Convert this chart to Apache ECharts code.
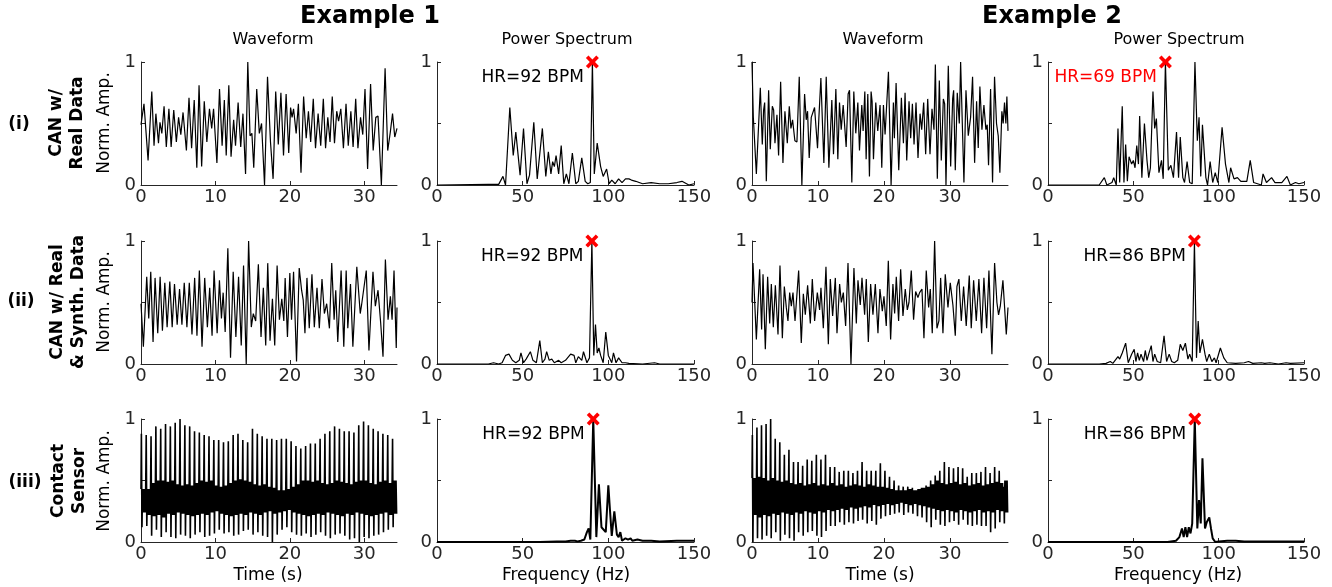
<!DOCTYPE html>
<html>
<head>
<meta charset="utf-8">
<script src="https://cdn.jsdelivr.net/npm/echarts@6/dist/echarts.min.js"></script>
<style>
  html, body { margin: 0; padding: 0; background: #fff; }
  #main { width: 1332px; height: 587px; }
</style>
</head>
<body>
<div id="main"></div>
<script>
// ---- data ----
// waveforms: [time (s), normalised amplitude]
var waveR1E1 = [[0,0.49],[0.4,0.66],[0.95,0.2],[1.45,0.76],[1.75,0.32],[2.0,0.58],[2.35,0.34],[2.55,0.51],[2.8,0.42],[3.1,0.64],[3.4,0.31],[3.75,0.62],[4.05,0.31],[4.4,0.61],[4.75,0.35],[5.05,0.55],[5.35,0.41],[5.65,0.59],[6.1,0.28],[6.45,0.71],[6.8,0.3],[7.15,0.69],[7.5,0.14],[7.8,0.81],[8.15,0.15],[8.5,0.68],[8.85,0.35],[9.2,0.62],[9.5,0.46],[9.75,0.62],[10.2,0.18],[10.55,0.78],[10.9,0.32],[11.2,0.69],[11.45,0.24],[11.8,0.81],[12.1,0.23],[12.45,0.53],[12.7,0.32],[13.05,0.67],[13.4,0.31],[13.7,0.58],[14.05,0.09],[14.35,1.0],[14.65,0.4],[14.9,0.42],[15.15,0.14],[15.55,0.78],[15.9,0.42],[16.2,0.5],[16.6,0],[17.0,0.88],[17.4,0.35],[17.75,0.05],[18.1,0.76],[18.45,0.33],[18.8,0.75],[19.15,0.24],[19.5,0.74],[19.85,0.26],[20.1,0.63],[20.3,0.55],[20.5,0.62],[20.85,0.42],[21.15,0.66],[21.5,0.1],[21.85,0.72],[22.2,0.38],[22.5,0.6],[22.8,0.35],[23.15,0.7],[23.45,0.3],[23.8,0.58],[24.15,0.32],[24.5,0.7],[24.8,0.3],[25.1,0.55],[25.4,0.35],[25.7,0.72],[26.0,0.34],[26.3,0.6],[26.55,0.52],[26.85,0.62],[27.2,0.3],[27.55,0.66],[27.85,0.32],[28.2,0.6],[28.5,0.31],[28.85,0.7],[29.15,0.3],[29.5,0.55],[29.8,0.41],[30.1,0.78],[30.45,0.13],[30.85,0.82],[31.2,0.28],[31.55,0.55],[31.85,0.56],[32.3,0],[32.8,0.95],[33.15,0.28],[33.5,0.43],[33.8,0.58],[34.1,0.39],[34.4,0.46]];

var waveR1E2 = [[0,1.0],[0.2,0.55],[0.66,0.09],[1.26,0.79],[1.56,0.33],[1.76,0.61],[1.92,0.67],[2.17,0.03],[2.52,0.77],[2.77,0.29],[3.08,0.64],[3.28,0.61],[3.48,0.34],[3.78,0.57],[4.03,0.24],[4.34,0.84],[4.69,0.18],[4.99,0.6],[5.35,0.34],[5.65,0.64],[5.9,0.46],[6.15,0.53],[6.5,0.36],[6.81,0.35],[7.16,0.88],[7.56,0],[7.97,0.74],[8.22,0.53],[8.42,0.6],[8.67,0.22],[8.98,0.55],[9.23,0.54],[9.48,0.63],[9.93,0.3],[10.14,0.55],[10.44,0.87],[10.89,0.18],[11.25,0.88],[11.65,0.14],[12.1,0.69],[12.35,0.25],[12.71,0.78],[13.01,0.21],[13.26,0.67],[13.52,0.45],[13.82,0.65],[14.27,0.31],[14.57,0.74],[14.78,0.77],[15.13,0.02],[15.43,0.76],[15.73,0.42],[16.04,0.67],[16.29,0.28],[16.64,0.65],[16.84,0.44],[17.1,0.76],[17.3,0.21],[17.55,0.74],[17.8,0.07],[18.05,0.76],[18.2,0.68],[18.41,0.21],[18.76,0.67],[19.06,0.44],[19.41,0.65],[19.67,0.14],[19.92,0.65],[20.17,0.41],[20.68,0.92],[21.08,0],[21.43,0.67],[21.58,0.38],[21.84,0.83],[22.24,0.12],[22.64,0.71],[22.95,0.34],[23.2,0.75],[23.45,0.2],[23.8,0.68],[24.05,0.38],[24.31,0.66],[24.56,0.33],[24.86,0.67],[25.16,0.22],[25.47,0.58],[25.72,0.45],[26.02,0.67],[26.32,0.25],[26.63,0.7],[26.98,0.25],[27.28,0.62],[27.58,0.45],[27.79,0.98],[28.09,0.05],[28.39,0.85],[28.69,0.2],[29.0,0.7],[29.2,0.66],[29.4,0],[29.75,0.97],[30.11,0.15],[30.41,0.7],[30.56,0.77],[30.81,0.12],[31.11,0.75],[31.42,0.5],[31.62,1.0],[32.12,0.02],[32.43,0.77],[32.78,0.4],[33.13,0.55],[33.43,0.88],[33.74,0.18],[34.04,0.68],[34.29,0.3],[34.54,0.8],[34.85,0.45],[35.15,0.65],[35.45,0.45],[35.65,0.49],[35.85,0.16],[36.16,0.78],[36.46,0.02],[36.76,0.88],[37.06,0.5],[37.32,0.4],[37.57,0.1],[37.87,0.6],[38.07,0.5],[38.27,0.67],[38.48,0.5],[38.63,0.72],[38.8,0.44]];

var waveR2E1 = [[0,0.49],[0.32,0.14],[0.77,0.71],[1.04,0.37],[1.31,0.75],[1.62,0.18],[1.89,0.7],[2.25,0.25],[2.57,0.71],[2.88,0.27],[3.2,0.66],[3.51,0.3],[3.87,0.67],[4.19,0.3],[4.5,0.65],[4.86,0.32],[5.18,0.61],[5.5,0.32],[5.81,0.66],[6.17,0.3],[6.49,0.66],[6.85,0.24],[7.21,0.7],[7.52,0.23],[7.84,0.76],[8.2,0.14],[8.56,0.7],[8.92,0.3],[9.23,0.62],[9.55,0.23],[9.82,0.76],[10.23,0.25],[10.54,0.68],[10.81,0.37],[11.04,0.58],[11.31,0.26],[11.67,0.94],[12.03,0.05],[12.39,0.75],[12.75,0.22],[13.11,0.71],[13.47,0.15],[13.78,0.8],[14.14,0],[14.46,1.0],[14.82,0.3],[15.09,0.41],[15.41,0.35],[15.77,0.81],[16.13,0.22],[16.44,0.62],[16.76,0.15],[17.03,0.82],[17.34,0.19],[17.66,0.53],[17.97,0.15],[18.29,0.8],[18.6,0.36],[18.92,0.53],[19.19,0.35],[19.37,0.7],[19.68,0.22],[20.0,0.74],[20.23,0.36],[20.5,0.75],[20.9,0.02],[21.26,0.78],[21.58,0.6],[21.8,0.52],[22.03,0.25],[22.3,0.7],[22.61,0.29],[22.97,0.73],[23.29,0.3],[23.65,0.62],[23.96,0.29],[24.32,0.69],[24.64,0.41],[24.95,0.49],[25.32,0.29],[25.63,0.82],[25.95,0.36],[26.17,0.6],[26.44,0.18],[26.89,0.76],[27.25,0.14],[27.57,0.76],[27.79,0.29],[28.15,0.65],[28.47,0.14],[29.0,0.79],[29.46,0.41],[29.64,0.48],[30.27,0.76],[30.63,0.11],[31.17,0.75],[31.49,0.47],[31.85,0.6],[32.2,0.34],[32.52,0.06],[32.84,0.85],[33.2,0.36],[33.51,0.55],[33.74,0.36],[34.0,0.76],[34.3,0.13],[34.4,0.46]];

var waveR2E2 = [[0,0.5],[0.15,0.82],[0.66,0.2],[1.16,0.77],[1.46,0.28],[1.67,0.73],[2.02,0.12],[2.37,0.71],[2.68,0.33],[2.93,0.65],[3.23,0.3],[3.54,0.64],[3.94,0.24],[4.24,0.8],[4.6,0.21],[4.9,0.63],[5.2,0.46],[5.45,0.35],[5.71,0.58],[5.96,0.47],[6.21,0.58],[6.52,0.35],[7.07,0.76],[7.47,0.17],[7.78,0.57],[8.08,0.4],[8.43,0.64],[8.84,0.33],[9.14,0.69],[9.49,0.35],[9.9,0.58],[10.25,0.44],[10.45,0.62],[10.81,0.29],[11.21,0.79],[11.57,0.16],[11.87,0.69],[12.22,0.39],[12.63,0.7],[12.88,0.25],[13.28,0.65],[13.54,0.5],[13.84,0.58],[14.19,0.31],[14.55,0.82],[15.0,0],[15.45,0.78],[15.81,0.33],[16.06,0.68],[16.41,0.48],[16.67,0.7],[17.07,0.4],[17.32,0.69],[17.63,0.18],[17.98,0.65],[18.33,0.4],[18.69,0.65],[19.09,0.25],[19.39,0.61],[19.75,0.43],[20.0,0.55],[20.35,0.31],[20.66,0.84],[21.01,0.2],[21.36,0.65],[21.62,0.41],[21.87,0.71],[22.22,0.35],[22.53,0.77],[22.88,0.39],[23.23,0.61],[23.54,0.44],[23.79,0.5],[24.14,0.76],[24.49,0.36],[24.8,0.59],[25.15,0.54],[25.4,0.58],[25.76,0.61],[26.06,0.21],[26.41,0.76],[26.77,0.46],[27.02,0.61],[27.32,0.25],[27.68,1.0],[28.03,0.29],[28.33,0.35],[28.59,0.7],[28.94,0.25],[29.29,0.73],[29.7,0.46],[30.05,0.66],[30.45,0.48],[30.81,0.23],[31.06,0.63],[31.36,0.69],[31.72,0.35],[32.07,0.63],[32.47,0.31],[32.93,0.72],[33.23,0.29],[33.59,0.68],[33.99,0.35],[34.39,0.69],[34.8,0.25],[35.15,0.7],[35.56,0.29],[35.91,0.76],[36.36,0.08],[36.77,0.82],[37.12,0.5],[37.37,0.4],[37.63,0.47],[38.03,0.68],[38.54,0.24],[38.8,0.46]];

// contact sensor: one entry per pulse (tall peak, deep trough, band top, band bottom)
var pulsePeak1 = [0.88,0.87,0.86,0.94,0.92,0.96,0.94,0.97,1.0,0.95,0.94,0.9,0.89,0.87,0.86,0.83,0.83,0.81,0.82,0.87,0.88,0.83,0.81,0.92,0.88,0.86,0.84,0.84,0.83,0.84,0.84,0.82,0.78,0.76,0.78,0.8,0.8,0.84,0.88,0.9,0.94,0.92,0.9,0.9,0.89,0.95,0.98,0.95,0.92,0.9,0.88,0.87,0.84];
var pulseLow1 = [0.12,0.13,0.05,0.1,0.04,0.08,0.04,0.03,0.06,0.05,0.03,0.06,0.08,0.04,0.05,0.07,0.1,0.07,0.08,0.05,0.06,0.09,0.1,0.06,0.08,0.05,0.04,0.0,0.06,0.1,0.12,0.08,0.06,0.05,0.07,0.04,0.06,0.08,0.05,0.03,0.06,0.07,0.05,0.02,0.03,0.0,0.04,0.03,0.05,0.06,0.08,0.1,0.12];
var bandHi1 = [0.43,0.43,0.48,0.5,0.5,0.49,0.5,0.47,0.46,0.47,0.46,0.48,0.5,0.49,0.5,0.46,0.45,0.46,0.48,0.5,0.51,0.5,0.49,0.47,0.46,0.47,0.45,0.44,0.42,0.42,0.43,0.45,0.47,0.5,0.5,0.49,0.5,0.48,0.47,0.48,0.5,0.49,0.48,0.47,0.49,0.5,0.5,0.48,0.47,0.49,0.5,0.48,0.5];
var bandLo1 = [0.24,0.22,0.21,0.22,0.2,0.23,0.22,0.24,0.23,0.22,0.21,0.22,0.23,0.22,0.24,0.25,0.23,0.22,0.21,0.22,0.23,0.22,0.24,0.23,0.22,0.24,0.25,0.23,0.24,0.25,0.26,0.24,0.23,0.22,0.21,0.22,0.23,0.22,0.24,0.23,0.22,0.21,0.23,0.22,0.24,0.23,0.22,0.21,0.22,0.23,0.24,0.22,0.23];

var pulsePeak2 = [0.87,0.93,0.95,0.96,1.0,0.84,0.81,0.71,0.75,0.65,0.65,0.62,0.67,0.66,0.71,0.67,0.71,0.61,0.61,0.57,0.58,0.58,0.56,0.58,0.65,0.58,0.58,0.58,0.64,0.58,0.53,0.5,0.46,0.45,0.45,0.44,0.42,0.44,0.46,0.5,0.54,0.58,0.65,0.61,0.6,0.61,0.6,0.53,0.56,0.56,0.57,0.61,0.56,0.61,0.58,0.45];
var pulseLow2 = [0.0,0.03,0.02,0.05,0.03,0.08,0.01,0.06,0.03,0.01,0.08,0.05,0.08,0.09,0.05,0.04,0.09,0.13,0.13,0.16,0.14,0.16,0.15,0.17,0.18,0.15,0.17,0.14,0.19,0.21,0.22,0.23,0.24,0.22,0.24,0.23,0.21,0.2,0.16,0.12,0.18,0.14,0.13,0.16,0.17,0.14,0.18,0.14,0.13,0.14,0.13,0.13,0.08,0.11,0.16,0.15];
var bandHi2 = [0.52,0.53,0.52,0.5,0.52,0.5,0.49,0.5,0.48,0.47,0.48,0.46,0.47,0.48,0.46,0.47,0.46,0.48,0.46,0.47,0.45,0.46,0.47,0.46,0.45,0.47,0.46,0.45,0.45,0.44,0.43,0.42,0.42,0.42,0.43,0.42,0.43,0.44,0.45,0.47,0.5,0.48,0.47,0.48,0.49,0.47,0.48,0.46,0.47,0.48,0.46,0.47,0.48,0.49,0.48,0.5];
var bandLo2 = [0.22,0.2,0.22,0.21,0.23,0.22,0.24,0.23,0.22,0.24,0.23,0.25,0.24,0.23,0.25,0.24,0.26,0.25,0.26,0.27,0.26,0.28,0.27,0.28,0.29,0.28,0.3,0.29,0.3,0.31,0.3,0.31,0.32,0.31,0.3,0.31,0.3,0.29,0.28,0.27,0.26,0.25,0.26,0.25,0.24,0.26,0.25,0.24,0.25,0.26,0.24,0.25,0.24,0.26,0.25,0.24];

// power spectra: [BPM, normalised power]
var specR1E1 = [[0,0],[30,0.005],[36,0.005],[38.5,0.07],[40,0],[42.5,0.63],[44.5,0.24],[46,0.43],[48.5,0.08],[50.5,0.46],[52.5,0.01],[54,0.08],[56.5,0.51],[58.5,0.05],[61.5,0.46],[63.5,0.07],[65,0.27],[66.5,0.09],[67.5,0.19],[68.5,0.15],[69.5,0.24],[71,0.09],[72.5,0.32],[74,0.01],[75.5,0.09],[77,0.01],[79,0.26],[81,0.01],[82.5,0.03],[84.5,0.22],[86.5,0.03],[88,0.01],[89.5,0.02],[90.7,1.0],[91.8,0.09],[93.5,0.34],[95.5,0.15],[97,0.07],[99,0.13],[100.5,0.01],[102,0.04],[104,0.01],[106,0.05],[108,0.02],[110,0.05],[112,0.05],[113.5,0.04],[116,0.03],[120,0.01],[125,0.02],[130,0.01],[135,0.01],[140,0.02],[143,0.03],[147,0],[150,0.01]];
var specR1E2 = [[0,0],[30,0],[33,0.06],[34.5,0],[37.5,0.02],[38.5,0.06],[40,0],[41,0.46],[42,0.02],[43.5,0.64],[44.5,0.02],[45.5,0.33],[46.5,0.03],[47.5,0.23],[49,0.17],[50,0.2],[51,0.14],[52,0.32],[53,0.17],[53.7,0.56],[55,0.06],[56.5,0.5],[58,0.2],[59,0.06],[60,0.14],[61.5,0.76],[62.5,0.46],[63.5,0.54],[65,0.1],[66.5,0.2],[67.5,0.05],[68.8,1.0],[70.5,0.12],[72,0.16],[73.5,0.06],[75.3,0.43],[76.5,0.06],[77.5,0.39],[79,0.06],[80,0.02],[81.5,0.19],[83,0.02],[84.5,0.01],[86.1,1.0],[87.5,0.36],[88.5,0.55],[89.5,0.07],[90.5,0.49],[92.5,0.06],[93.5,0],[95,0.19],[96.5,0.02],[98,0.1],[99.5,0.02],[102,0.47],[104,0.17],[106,0.02],[107,0.14],[109,0.05],[111,0.06],[113,0.03],[116.5,0.03],[118.5,0.2],[120.5,0.02],[125,0],[126,0.09],[128,0.02],[131,0.06],[133,0.02],[137,0.02],[140,0.07],[142,0],[145,0.02],[147,0.01],[150,0.02]];
var specR2E1 = [[0,0],[30,0],[33,0.01],[36,0],[38,0.01],[40,0.07],[42,0.08],[44,0.03],[46,0.01],[48,0.03],[49,0.09],[50.5,0.01],[52,0.04],[54.5,0.1],[56,0.03],[58,0.01],[60,0.19],[61.5,0.01],[63,0.04],[64,0.1],[65.5,0.03],[67,0.04],[68.5,0.01],[71,0.03],[72.5,0.01],[75,0.03],[78,0.08],[80,0.07],[81,0.01],[82.5,0.06],[84.5,0.03],[85.5,0.1],[87.5,0.01],[89,0.05],[90.4,1.0],[91.5,0.07],[92.5,0.32],[93.5,0.09],[94.5,0.13],[95.5,0.07],[97,0.01],[98.5,0.26],[100,0.07],[102,0.01],[103,0.09],[104.5,0.01],[106,0.05],[108,0.01],[110,0.01],[112,0.005],[120,0],[127,0.01],[130,0],[150,0]];
var specR2E2 = [[0,0],[30,0],[34,0.005],[36.5,0.02],[38,0.005],[41,0.06],[42,0.04],[43.5,0.09],[45.5,0.17],[47,0.01],[49,0.08],[50.5,0.12],[51.5,0.02],[52.5,0.09],[53.5,0.03],[54.5,0.08],[56,0.02],[57,0.11],[58,0.03],[59,0.08],[60.5,0.15],[61.5,0.02],[62.5,0.08],[64,0.02],[66,0.01],[68,0.23],[69.5,0.02],[71,0.08],[72.5,0.02],[74,0.01],[76,0.03],[77.5,0.16],[79,0.11],[80.5,0.17],[82,0.04],[83,0.08],[84.5,0.02],[85.8,0.99],[87,0.05],[88,0.35],[89,0.09],[90.5,0.2],[92,0.08],[93,0.02],[94.5,0.08],[96,0.02],[97.5,0.05],[98.5,0.01],[101,0.13],[103,0.05],[105,0.01],[110,0.005],[115,0.01],[117.5,0.02],[120,0.005],[125,0.01],[127,0.005],[130,0.01],[135,0],[139.5,0.01],[142,0.005],[150,0.01]];
var specR3E1 = [[0,0],[60,0],[70,0.005],[75,0.005],[78,0.01],[80.5,0.01],[82,0.005],[84,0.01],[86,0.02],[87.5,0.08],[88.5,0.11],[89.5,0.02],[91.2,1.0],[93,0.04],[94.5,0.47],[96,0.12],[97,0.13],[98.5,0.08],[100,0.46],[101,0.25],[102,0.05],[103.5,0.25],[105,0.06],[106,0.04],[107,0.08],[108,0.01],[110,0.03],[111.5,0.02],[113,0.03],[114,0.01],[117,0.02],[120,0.01],[125,0.01],[130,0.005],[140,0.01],[150,0.01]];
var specR3E2 = [[0,0],[70,0],[75,0.01],[77,0.04],[78.5,0.11],[79.5,0.04],[80.5,0.12],[81.5,0.04],[82.5,0.12],[83.5,0.07],[84.5,0.15],[86,1.0],[87.5,0.11],[88.5,0.34],[89.5,0.15],[90.5,0.68],[92,0.11],[93,0.16],[94.5,0.2],[95.5,0.11],[96.5,0.03],[98,0],[100,0.005],[105,0.01],[110,0.01],[115,0.005],[120,0.005],[130,0.005],[140,0.005],[150,0.005]];

// estimated heart rate marks: [BPM, peak, label, label colour]
var hrMarks = [
  [90.7, 1, 'HR=92 BPM', '#000'], [68.8, 1, 'HR=69 BPM', '#ff0000'],
  [90.4, 1, 'HR=92 BPM', '#000'], [85.8, 1, 'HR=86 BPM', '#000'],
  [91.2, 1, 'HR=92 BPM', '#000'], [86.0, 1, 'HR=86 BPM', '#000']
];

var durations = [34.4, 38.8];
var timeTicks = [0, 10, 20, 30];
var freqTicks = [0, 50, 100, 150];

// ---- build contact-sensor trace from pulse tables ----
function pulseTrace(peak, low, hi, lo, dur) {
  var n = peak.length, p = dur / n, out = [[0, hi[0]]];
  for (var c = 0; c < n; c++) {
    var t0 = c * p;
    out.push([t0 + 0.08 * p, peak[c]]);
    out.push([t0 + 0.2 * p, low[c]]);
    for (var k = 0; k < 6; k++) {
      out.push([t0 + (0.32 + 0.12 * k) * p, k % 2 === 0 ? hi[c] : lo[c]]);
    }
  }
  return out;
}
var contactE1 = pulseTrace(pulsePeak1, pulseLow1, bandHi1, bandLo1, durations[0]);
var contactE2 = pulseTrace(pulsePeak2, pulseLow2, bandHi2, bandLo2, durations[1]);

var waves = [[waveR1E1, waveR1E2], [waveR2E1, waveR2E2], [contactE1, contactE2]];
var specs = [[specR1E1, specR1E2], [specR2E1, specR2E2], [specR3E1, specR3E2]];

// ---- layout ----
var FONT = 'DejaVu Sans';
var AX = '#262626';
var colLeft = [141, 437, 752, 1048];
var colWidth = [256, 257, 256, 256];
var rowTop = [62, 241, 419];
var plotH = 123;

var grids = [], xAxes = [], yAxes = [], series = [];
var xPath = 'path://M0,2 L2,0 L5,3 L8,0 L10,2 L7,5 L10,8 L8,10 L5,7 L2,10 L0,8 L3,5 Z';

for (var r = 0; r < 3; r++) {
  for (var c = 0; c < 4; c++) {
    var g = grids.length;
    var isSpec = c % 2 === 1;
    var ex = c < 2 ? 0 : 1;
    grids.push({ left: colLeft[c], top: rowTop[r], width: colWidth[c], height: plotH });
    var ticks = isSpec ? freqTicks : timeTicks;
    xAxes.push({
      gridIndex: g, type: 'value', min: 0, max: isSpec ? 150 : durations[ex],
      axisLine: { show: true, onZero: false, lineStyle: { color: AX, width: 1 } },
      axisTick: { show: true, inside: true, length: 4, customValues: ticks, lineStyle: { color: AX } },
      axisLabel: { customValues: ticks, color: AX, fontFamily: FONT, fontSize: 18, margin: 3 },
      splitLine: { show: false }
    });
    yAxes.push({
      gridIndex: g, type: 'value', min: 0, max: 1,
      axisLine: { show: true, lineStyle: { color: AX, width: 1 } },
      axisTick: { show: true, inside: true, length: 4, customValues: [0, 0.5, 1], lineStyle: { color: AX } },
      axisLabel: { customValues: [0, 1], color: AX, fontFamily: FONT, fontSize: 18, margin: 5 },
      splitLine: { show: false }
    });
    var lw = r === 2 ? (isSpec ? 2 : 1.6) : 1.2;
    series.push({
      type: 'line', xAxisIndex: g, yAxisIndex: g, showSymbol: false, symbol: 'none',
      data: isSpec ? specs[r][ex] : waves[r][ex],
      lineStyle: { color: '#000', width: lw }, z: 2, silent: true
    });
    if (isSpec) {
      var m = hrMarks[r * 2 + ex];
      series.push({
        type: 'scatter', xAxisIndex: g, yAxisIndex: g, z: 5,
        symbol: xPath, symbolSize: 13,
        itemStyle: { color: '#ff0000', opacity: 1 },
        data: [[m[0], m[1]]],
        label: {
          show: true, position: 'left', distance: 2, offset: [0, 16],
          formatter: m[2], color: m[3], fontFamily: FONT, fontSize: 17
        }
      });
    }
  }
}

// ---- free text ----
function txt(str, x, y, size, bold, rot) {
  return {
    type: 'text', x: x, y: y, rotation: rot ? Math.PI / 2 : 0,
    style: {
      text: str, x: 0, y: 0, align: 'center', verticalAlign: 'middle',
      font: (bold ? 'bold ' : '') + size + 'px "' + FONT + '"', fill: '#000', lineHeight: 21
    }
  };
}
var graphics = [
  txt('Example 1', 370, 17, 24, true), txt('Example 2', 1052, 17, 24, true),
  txt('Waveform', 273, 40, 16), txt('Power Spectrum', 567, 40, 16),
  txt('Waveform', 883, 40, 16), txt('Power Spectrum', 1179, 40, 16),
  txt('(i)', 19, 125, 17, true), txt('(ii)', 21, 302, 17, true), txt('(iii)', 25, 483, 17, true),
  txt('CAN w/\nReal Data', 67, 123, 17, true, true),
  txt('CAN w/ Real\n& Synth. Data', 68, 302, 17, true, true),
  txt('Contact\nSensor', 69, 481, 17, true, true),
  txt('Norm. Amp.', 105, 123, 17, false, true),
  txt('Norm. Amp.', 105, 302, 17, false, true),
  txt('Norm. Amp.', 105, 481, 17, false, true),
  txt('Time (s)', 268, 576, 17), txt('Frequency (Hz)', 566, 576, 17),
  txt('Time (s)', 880, 576, 17), txt('Frequency (Hz)', 1178, 576, 17)
];

var chart = echarts.init(document.getElementById('main'));
chart.setOption({
  animation: false,
  backgroundColor: '#fff',
  grid: grids, xAxis: xAxes, yAxis: yAxes, series: series,
  graphic: graphics
});
</script>
</body>
</html>
